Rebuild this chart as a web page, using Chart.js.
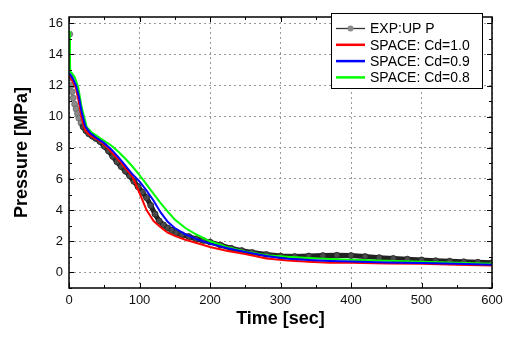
<!DOCTYPE html>
<html>
<head>
<meta charset="utf-8">
<script src="https://cdn.jsdelivr.net/npm/chart.js@4.4.1/dist/chart.umd.min.js"></script>
<style>
  html, body { margin: 0; padding: 0; background: #fff; }
</style>
</head>
<body>
<canvas id="chart" width="509" height="341"></canvas>
<script>
// axis ticks
const xTicks = [0, 100, 200, 300, 400, 500, 600];
const yTicks = [0, 2, 4, 6, 8, 10, 12, 14, 16];
const xMinorTicks = [50, 150, 250, 350, 450, 550];
const yMinorTicks = [-1, 1, 3, 5, 7, 9, 11, 13, 15];

const seriesLabels = ['EXP:UP P', 'SPACE: Cd=1.0', 'SPACE: Cd=0.9', 'SPACE: Cd=0.8'];

const expTime = [1, 2, 3, 4.5, 6, 8, 10, 12, 14, 17, 20, 24, 28, 33, 38, 44, 50, 56, 62, 68, 74, 80, 86, 92, 98,
  104, 110, 116, 122, 128, 134, 140, 146, 152, 160, 170, 180, 190, 200, 215, 230, 245, 260, 280, 300,
  320, 340, 360, 380, 400, 420, 440, 460, 480, 500, 520, 540, 560, 580, 600];
const expP = [15.3, 12.5, 12.0, 11.6, 11.2, 10.8, 10.5, 10.2, 9.9, 9.6, 9.35, 9.1, 8.9, 8.75, 8.6, 8.4, 8.1, 7.8, 7.45, 7.1, 6.8, 6.5, 6.2, 5.85, 5.5,
  5.15, 4.8, 4.3, 3.75, 3.3, 3.05, 2.85, 2.7, 2.55, 2.42, 2.3, 2.15, 2.05, 1.95, 1.75, 1.55, 1.4, 1.28, 1.15, 1.05,
  1.02, 1.05, 1.08, 1.1, 1.08, 1.02, 0.95, 0.9, 0.85, 0.8, 0.75, 0.72, 0.68, 0.65, 0.62];

// SPACE Cd=1.0
const cd10Time = [0, 2, 6, 10, 14, 18, 23, 30, 40, 50, 60, 70, 80, 90, 100, 110, 120, 130, 140, 150, 165, 180, 200, 225, 250, 280, 310, 340, 370, 400, 450, 500, 550, 600];
const cd10P = [12.6, 12.5, 12.2, 11.8, 10.9, 9.9, 9.1, 8.8, 8.55, 8.2, 7.75, 7.25, 6.7, 6.15, 5.1, 4.0, 3.3, 2.9, 2.55, 2.35, 2.1, 1.9, 1.63, 1.38, 1.18, 0.9, 0.76, 0.68, 0.62, 0.62, 0.58, 0.55, 0.5, 0.45];

// SPACE Cd=0.9
const cd09Time = [0, 2, 6, 10, 14, 18, 23, 30, 40, 50, 60, 70, 80, 90, 100, 110, 120, 130, 140, 150, 165, 180, 200, 225, 250, 280, 310, 340, 370, 400, 450, 500, 550, 600];
const cd09P = [12.8, 12.7, 12.4, 12.0, 11.3, 10.3, 9.4, 8.95, 8.6, 8.3, 7.9, 7.4, 6.85, 6.3, 5.85, 5.25, 4.6, 3.85, 3.25, 2.85, 2.45, 2.15, 1.85, 1.55, 1.32, 1.05, 0.88, 0.8, 0.74, 0.7, 0.64, 0.6, 0.55, 0.5];

// SPACE Cd=0.8
const cd08Time = [1.2, 1.6, 3, 8, 13, 18, 25, 32, 45, 60, 70, 82, 90, 100, 110, 120, 130, 140, 150, 165, 180, 200, 225, 250, 280, 310, 340, 370, 400, 450, 500, 550, 600];
const cd08P = [15.5, 12.9, 12.85, 12.55, 11.9, 10.6, 9.35, 9.0, 8.6, 8.15, 7.75, 7.2, 6.8, 6.25, 5.65, 5.05, 4.45, 3.9, 3.4, 2.85, 2.45, 2.0, 1.62, 1.35, 1.1, 1.0, 0.92, 0.86, 0.82, 0.75, 0.68, 0.62, 0.56];

const pts = (t, p) => t.map((v, i) => ({x: v, y: p[i]}));
const FONT = 'Arial, "Liberation Sans", sans-serif';
const early = c => c.parsed && c.parsed.x <= 18;

// frame with inward ticks on all four sides
const frameTicks = {
  id: 'frameTicks',
  afterDatasetsDraw(chart) {
    const {ctx, chartArea: a, scales: {x, y}} = chart;
    ctx.save();
    ctx.strokeStyle = '#000';
    ctx.lineWidth = 1;
    const seg = (x1, y1, x2, y2) => { ctx.beginPath(); ctx.moveTo(x1, y1); ctx.lineTo(x2, y2); ctx.stroke(); };
    xTicks.concat(xMinorTicks).forEach(v => {
      const px = Math.round(x.getPixelForValue(v)) + 0.5;
      const len = xTicks.includes(v) ? 5 : 3;
      seg(px, a.bottom, px, a.bottom - len);
      seg(px, a.top, px, a.top + len);
    });
    yTicks.concat(yMinorTicks).forEach(v => {
      const py = Math.round(y.getPixelForValue(v)) + 0.5;
      const len = yTicks.includes(v) ? 5 : 3;
      seg(a.left, py, a.left + len, py);
      seg(a.right, py, a.right - len, py);
    });
    ctx.lineWidth = 1.5;
    ctx.strokeRect(a.left, a.top, a.right - a.left, a.bottom - a.top);
    ctx.restore();
  }
};

// boxed legend in the top right of the plot
const boxLegend = {
  id: 'boxLegend',
  afterDraw(chart) {
    const ctx = chart.ctx;
    const bx = 331, by = 13, bw = 151, bh = 75, row = 16.3;
    ctx.save();
    ctx.fillStyle = '#fff';
    ctx.fillRect(bx, by, bw, bh);
    ctx.strokeStyle = '#000';
    ctx.lineWidth = 1;
    ctx.strokeRect(bx + 0.5, by + 0.5, bw, bh);
    ctx.font = '14px ' + FONT;
    ctx.textBaseline = 'middle';
    chart.data.datasets.forEach((ds, i) => {
      const cy = by + 15.5 + i * row;
      ctx.strokeStyle = ds.legendColor;
      ctx.lineWidth = ds.legendWidth;
      ctx.beginPath(); ctx.moveTo(336, cy); ctx.lineTo(365, cy); ctx.stroke();
      if (ds.legendMarker) {
        ctx.beginPath(); ctx.arc(350.5, cy, 3, 0, Math.PI * 2);
        ctx.fillStyle = '#8a8a8a'; ctx.fill();
      }
      ctx.fillStyle = '#000';
      ctx.fillText(ds.label, 370, cy + 1);
    });
    ctx.restore();
  }
};

new Chart(document.getElementById('chart'), {
  type: 'line',
  data: {
    datasets: [{
      label: seriesLabels[0],
      data: pts(expTime, expP),
      order: 10,
      borderColor: '#222',
      borderWidth: 5,
      segment: {
        borderWidth: c => c.p1.parsed.x <= 18 ? 0.5 : 5,
        borderColor: c => c.p1.parsed.x <= 18 ? '#888' : '#222'
      },
      pointRadius: 3,
      pointBackgroundColor: c => early(c) ? '#8a8a8a' : '#4a4a4a',
      pointBorderColor: c => early(c) ? '#6a6a6a' : '#222',
      pointBorderWidth: 0.8,
      legendColor: '#333', legendWidth: 1.3, legendMarker: true
    }, {
      label: seriesLabels[1],
      data: pts(cd10Time, cd10P),
      order: 3,
      borderColor: '#ff0000',
      borderWidth: 2,
      pointRadius: 0,
      legendColor: '#ff0000', legendWidth: 2.5
    }, {
      label: seriesLabels[2],
      data: pts(cd09Time, cd09P),
      order: 1,
      borderColor: '#0000ff',
      borderWidth: 2,
      pointRadius: 0,
      legendColor: '#0000ff', legendWidth: 2.5
    }, {
      label: seriesLabels[3],
      data: pts(cd08Time, cd08P),
      order: 2,
      borderColor: '#00ff00',
      borderWidth: 2,
      pointRadius: 0,
      legendColor: '#00ff00', legendWidth: 2.5
    }]
  },
  options: {
    responsive: false,
    animation: false,
    devicePixelRatio: 1,
    events: [],
    layout: { padding: { left: 0, right: 17, top: 17, bottom: 0 } },
    plugins: {
      legend: { display: false },
      tooltip: { enabled: false }
    },
    scales: {
      x: {
        type: 'linear',
        min: 0,
        max: 600,
        afterBuildTicks: s => { s.ticks = xTicks.map(v => ({value: v})); },
        afterFit: s => { s.height = 53; },
        grid: { color: '#999', lineWidth: 1, drawTicks: false },
        border: { display: false, dash: [2, 3] },
        ticks: { autoSkip: false, maxRotation: 0, padding: 5, color: '#111', font: { family: FONT, size: 13 } },
        title: {
          display: true,
          text: 'Time [sec]',
          color: '#000',
          font: { family: FONT, size: 18, weight: 'bold' },
          padding: { top: 0, bottom: 11 }
        }
      },
      y: {
        type: 'linear',
        min: -1,
        max: 16.4,
        afterBuildTicks: s => { s.ticks = yTicks.map(v => ({value: v})); },
        afterFit: s => { s.width = 69; },
        grid: { color: '#999', lineWidth: 1, drawTicks: false },
        border: { display: false, dash: [2, 3] },
        ticks: { padding: 6, color: '#111', font: { family: FONT, size: 13 } },
        title: {
          display: true,
          text: 'Pressure [MPa]',
          color: '#000',
          font: { family: FONT, size: 18, weight: 'bold' },
          padding: { top: 11, bottom: 0 }
        }
      }
    }
  },
  plugins: [frameTicks, boxLegend]
});
</script>
</body>
</html>
